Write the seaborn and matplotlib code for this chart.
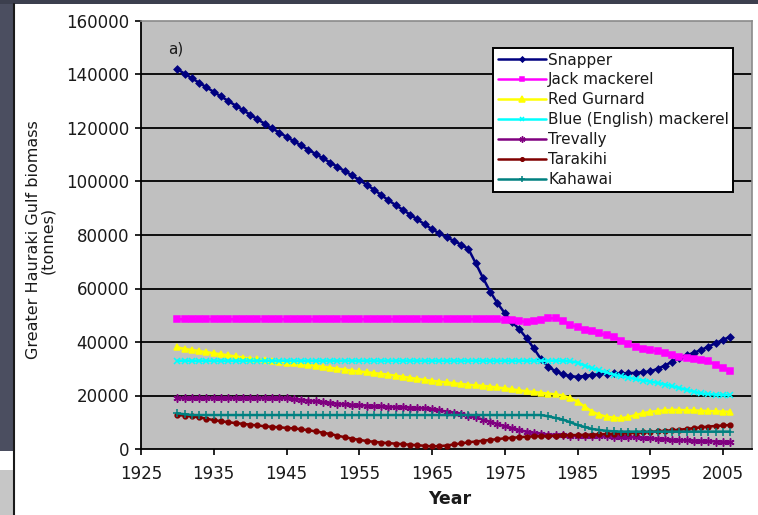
import matplotlib
matplotlib.use("Agg")
import matplotlib.pyplot as plt
from matplotlib.patches import Rectangle
from matplotlib.lines import Line2D
import pandas as pd
import seaborn as sns

# ---- data -------------------------------------------------------------
years = list(range(1930, 2007))

snapper = [
    142000, 140300, 138600, 136900, 135200, 133500, 131800, 130100, 128400, 126700,
    125000, 123300, 121600, 119900, 118300, 116700, 115100, 113500, 111900, 110300,
    108700, 107100, 105500, 103900, 102300, 100600, 98800, 97000, 95000, 93000,
    91200, 89400, 87600, 85800, 84000, 82200, 80600, 79200, 77800, 76400,
    74800, 69500, 64000, 58800, 54500, 50800, 47500, 44800, 41400, 37600,
    33500, 30800, 29000, 27900, 27200, 27000, 27300, 27700, 28000, 28200,
    28300, 28300, 28300, 28500, 28700, 29000, 30000, 31200, 32600, 34000,
    35000, 36000, 37000, 38300, 39600, 40800, 42000,
]

jack_mackerel = [
    48500, 48500, 48500, 48500, 48500, 48500, 48500, 48500, 48500, 48500,
    48500, 48500, 48500, 48500, 48500, 48500, 48500, 48500, 48500, 48500,
    48500, 48500, 48500, 48500, 48500, 48500, 48500, 48500, 48500, 48500,
    48500, 48500, 48500, 48500, 48500, 48500, 48500, 48500, 48500, 48500,
    48500, 48500, 48500, 48500, 48500, 48400, 48200, 47800, 47500, 47800,
    48300, 48800, 48900, 47800, 46500, 45500, 44500, 44000, 43300, 42500,
    42000, 40500, 39300, 38300, 37500, 37000, 36500, 36000, 35200, 34500,
    34200, 33800, 33300, 32800, 31500, 30300, 29000,
]

red_gurnard = [
    38000, 37400, 37000, 36600, 36200, 35800, 35400, 35000, 34600, 34200,
    33800, 33500, 33200, 32900, 32600, 32300, 32000, 31700, 31400, 31100,
    30700, 30400, 30000, 29700, 29300, 29000, 28700, 28400, 28100, 27800,
    27400, 27000, 26600, 26200, 25800, 25500, 25200, 24900, 24600, 24300,
    24000, 23800, 23600, 23300, 23000, 22700, 22300, 21900, 21600, 21300,
    21000, 20700, 20400, 20000, 19000, 17700, 15800, 14000, 12800, 12100,
    11700, 11500, 12000, 12700, 13400, 13900, 14200, 14500, 14600, 14600,
    14500, 14400, 14300, 14200, 14100, 14000, 13900,
]

blue_mackerel = [
    33000, 33000, 33000, 33000, 33000, 33000, 33000, 33000, 33000, 33000,
    33000, 33000, 33000, 33000, 33000, 33000, 33000, 33000, 33000, 33000,
    33000, 33000, 33000, 33000, 33000, 33000, 33000, 33000, 33000, 33000,
    33000, 33000, 33000, 33000, 33000, 33000, 33000, 33000, 33000, 33000,
    33000, 33000, 33000, 33000, 33000, 33000, 33000, 33000, 33000, 33000,
    33000, 33000, 33000, 33000, 32800, 32300, 31200, 30200, 29400, 28600,
    27800, 27200, 26700, 26100, 25600, 25200, 24700, 24100, 23500, 22800,
    22100, 21400, 20800, 20500, 20300, 20200, 20200,
]

trevally = [
    19000, 19000, 19000, 19000, 19000, 19000, 19000, 19000, 19000, 19000,
    19000, 19000, 19000, 19000, 19000, 19000, 18700, 18400, 18100, 17800,
    17500, 17200, 16900, 16700, 16500, 16400, 16200, 16000, 15900, 15800,
    15700, 15600, 15500, 15300, 15200, 14800, 14400, 14000, 13600, 13100,
    12500, 11800, 11000, 10200, 9300, 8500, 7700, 7000, 6500, 6000,
    5700, 5400, 5200, 5100, 5000, 4900, 4800, 4800, 4700, 4700,
    4600, 4600, 4500, 4400, 4200, 4000, 3800, 3600, 3400, 3300,
    3200, 3100, 3000, 2900, 2800, 2700, 2700,
]

tarakihi = [
    12700, 12500, 12200, 11800, 11300, 10800, 10400, 10000, 9700, 9400,
    9100, 8800, 8500, 8300, 8100, 7900, 7700, 7400, 7000, 6600,
    6100, 5600, 5000, 4400, 3900, 3400, 3000, 2700, 2400, 2200,
    2000, 1800, 1600, 1400, 1200, 1000, 1100, 1300, 1700, 2100,
    2500, 2800, 3100, 3400, 3700, 4000, 4200, 4400, 4600, 4700,
    4800, 4900, 5000, 5100, 5200, 5200, 5300, 5400, 5500, 5600,
    5700, 5800, 5900, 6000, 6200, 6400, 6600, 6800, 7000, 7200,
    7500, 7800, 8100, 8400, 8600, 8800, 9000,
]

kahawai = [
    13300, 13000, 12700, 12700, 12700, 12700, 12700, 12700, 12700, 12700,
    12700, 12700, 12700, 12700, 12700, 12700, 12700, 12700, 12700, 12700,
    12700, 12700, 12700, 12700, 12700, 12700, 12700, 12700, 12700, 12700,
    12700, 12700, 12700, 12700, 12700, 12700, 12700, 12700, 12700, 12700,
    12700, 12700, 12700, 12700, 12700, 12700, 12700, 12700, 12700, 12700,
    12700, 12200, 11600, 11000, 10000, 9000, 8200, 7500, 7100, 6800,
    6600, 6500, 6500, 6500, 6500, 6500, 6500, 6500, 6500, 6500,
    6500, 6500, 6500, 6500, 6500, 6500, 6500,
]

species = ["Snapper", "Jack mackerel", "Red Gurnard", "Blue (English) mackerel",
           "Trevally", "Tarakihi", "Kahawai"]
x_ticks = [1925, 1935, 1945, 1955, 1965, 1975, 1985, 1995, 2005]
y_ticks = [0, 20000, 40000, 60000, 80000, 100000, 120000, 140000, 160000]

series = [snapper, jack_mackerel, red_gurnard, blue_mackerel, trevally, tarakihi, kahawai]

# ---- styling ----------------------------------------------------------
colors = ["#000080", "#FF00FF", "#FFFF00", "#00FFFF", "#800080", "#800000", "#008080"]
markers = ["D", "s", "^", "x", (6, 2, 0), "o", "+"]
msizes = [3.4, 4.8, 5.0, 4.8, 5.8, 3.4, 6.2]

sns.set_style("white")
plt.rcParams["font.family"] = ["DejaVu Sans"]

W, H = 758, 515
fig = plt.figure(figsize=(W / 100, H / 100), dpi=100)
fig.patch.set_facecolor("white")

# window frame around the chart
fig.patches.append(Rectangle((0, 1 - 451 / H), 13 / W, 451 / H, transform=fig.transFigure,
                             facecolor="#4b4e60", edgecolor="none", zorder=0))
fig.patches.append(Rectangle((0, 0), 13 / W, 1 - 470 / H, transform=fig.transFigure,
                             facecolor="#c6c6c6", edgecolor="none", zorder=0))
fig.patches.append(Rectangle((0, 1 - 4 / H), 1, 4 / H, transform=fig.transFigure,
                             facecolor="#3c3f4e", edgecolor="none", zorder=0))
fig.lines.append(Line2D([13.5 / W, 13.5 / W], [0, 1 - 4 / H], transform=fig.transFigure,
                        color="#1a1a1a", lw=1.5))

ax_left, ax_right, ax_top, ax_bottom = 141, 752, 21, 449
ax = fig.add_axes([ax_left / W, 1 - ax_bottom / H, (ax_right - ax_left) / W,
                   (ax_bottom - ax_top) / H])
ax.set_facecolor("#C0C0C0")

for name, vals, c, m, ms in zip(species, series, colors, markers, msizes):
    df = pd.DataFrame({"Year": years, "Biomass": vals})
    sns.lineplot(data=df, x="Year", y="Biomass", ax=ax, color=c, marker=m,
                 markersize=ms, markeredgecolor=c, markerfacecolor=c,
                 markeredgewidth=1.1, linewidth=1.8, label=name, zorder=3)

ax.set_xlim(1925, 1925 + (ax_right - ax_left) / 7.275)
ax.set_ylim(0, 160000)
ax.set_xticks(x_ticks)
ax.set_xticklabels([str(v) for v in x_ticks])
ax.set_yticks(y_ticks)
ax.set_yticklabels([str(v) for v in y_ticks])

ax.grid(False)
for yv in y_ticks[1:-1]:
    ax.axhline(yv, color="black", lw=1.3, zorder=1)

for side in ["left", "bottom"]:
    ax.spines[side].set_color("black")
    ax.spines[side].set_linewidth(1.3)
for side in ["top", "right"]:
    ax.spines[side].set_color("#8a8a8a")
    ax.spines[side].set_linewidth(1.2)

ax.tick_params(axis="both", which="major", direction="out", length=4.5, width=1.2,
               color="black", labelsize=12, labelcolor="#1a1a1a",
               left=True, bottom=True)
ax.tick_params(axis="x", pad=7)
ax.tick_params(axis="y", pad=4)

ax.set_xlabel("Year", fontsize=12.5, fontweight="bold", color="#1a1a1a")
ax.xaxis.set_label_coords((450 - ax_left) / (ax_right - ax_left),
                          (ax_bottom - 490) / (ax_bottom - ax_top))
ax.set_ylabel("Greater Hauraki Gulf biomass\n(tonnes)", fontsize=11.5,
              color="#1a1a1a", linespacing=0.95)
ax.yaxis.set_label_coords((55 - ax_left) / (ax_right - ax_left),
                          (ax_bottom - 240) / (ax_bottom - ax_top))

ax.text(1929.8, 149500, "a)", fontsize=11, ha="center", va="center", color="#1a1a1a")

leg = ax.legend(loc="upper left", bbox_to_anchor=(493 / W, 1 - 48 / H),
                bbox_transform=fig.transFigure, fontsize=11, frameon=True,
                fancybox=False, framealpha=1, facecolor="white", edgecolor="black",
                borderpad=0.3, labelspacing=0.32, handlelength=3.2,
                handletextpad=0.1, borderaxespad=0, markerscale=0.75)
leg.get_frame().set_linewidth(1.4)
for t in leg.get_texts():
    t.set_color("#1a1a1a")

fig.savefig("out.png", dpi=100, facecolor=fig.get_facecolor())
